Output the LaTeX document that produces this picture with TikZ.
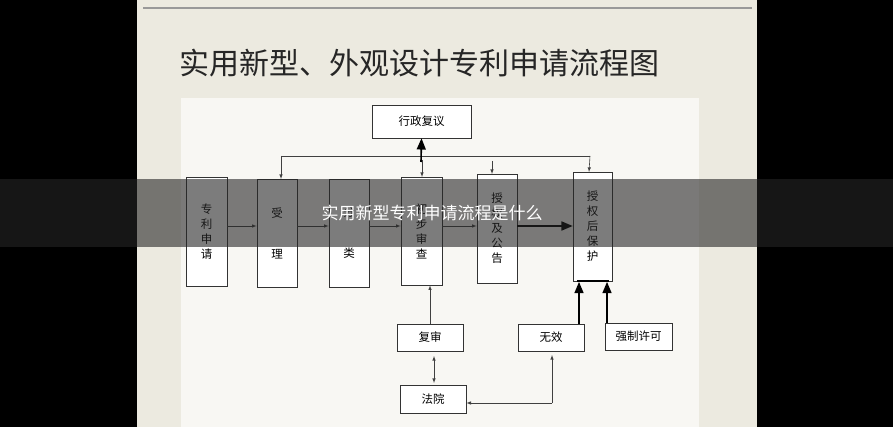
\documentclass[tikz,border=0pt]{standalone}
\usepackage{fontspec}
\setmainfont{Noto Sans CJK SC}
\usetikzlibrary{arrows}
\definecolor{slidebg}{HTML}{ECEAE0}
\definecolor{paper}{HTML}{F8F7F3}
\tikzset{
  box/.style={draw=black!80,line width=0.8pt,fill=white,font=\fontsize{11.5}{15}\selectfont,align=center,inner sep=0pt},
  link/.style={draw=black!75,line width=0.6pt,-latex},
  boldlink/.style={draw=black,line width=1.6pt,-triangle 45}
}
\begin{document}
\begin{tikzpicture}[x=1pt,y=-1pt]
\fill[black] (0,0) rectangle (893,427);
\useasboundingbox (0,0) rectangle (893,427);
% slide
\fill[slidebg] (137,0) rectangle (757,427);
\draw[black!40,line width=1.5pt] (143,8) -- (752,8);
\fill[paper] (181,98) rectangle (699,427);
\node[font=\fontsize{30}{30}\selectfont,anchor=west,text=black!85] (title) at (176,63) {实用新型、外观设计专利申请流程图};
% main row
\node[box,minimum width=41,minimum height=109] (apply) at (206.5,231.5) {专\\利\\申\\请};
\node[box,minimum width=40,minimum height=108] (accept) at (277,233) {受\\[26pt]理};
\node[box,minimum width=40,minimum height=108] (classify) at (349,233) {分\\[26pt]类};
\node[box,minimum width=41,minimum height=108] (exam) at (421.5,231) {初\\步\\审\\查};
\node[box,minimum width=40,minimum height=109] (grant) at (497,228.5) {授\\权\\及\\公\\告};
\node[box,minimum width=39,minimum height=109] (protect) at (592.5,226.5) {授\\权\\后\\保\\护};
\node[box,minimum width=99,minimum height=33] (review) at (421.5,121.5) {行政复议};
% lower row
\node[box,minimum width=66,minimum height=27] (reexam) at (430,337.5) {复审};
\node[box,minimum width=66,minimum height=27] (invalid) at (551,337.5) {无效};
\node[box,minimum width=67,minimum height=27] (license) at (638.5,336.5) {强制许可};
\node[box,minimum width=66,minimum height=28] (court) at (433,399) {法院};
% bus
\coordinate (busL) at (281,156);
\coordinate (busR) at (590,156);
\draw[black!75,line width=0.6pt] (busL) -- (busR);
\draw[link] (busL) -- (281,179);
\draw[link] (422,160) -- (422,177);
\draw[link] (492,161) -- (492,174);
\draw[link] (busR) -- (589,172);
\draw[boldlink] (421,162) -- (review.south);
% main flow
\draw[link] (apply.east |- 0,226) -- (accept.west |- 0,226);
\draw[link] (accept.east |- 0,226) -- (classify.west |- 0,226);
\draw[link] (classify.east |- 0,226) -- (exam.west |- 0,226);
\draw[link] (exam.east |- 0,226) -- (grant.west |- 0,226);
\draw[boldlink] (grant.east |- 0,226) -- (protect.west |- 0,226);
% lower links
\draw[link] (reexam.north) -- (reexam.north |- exam.south);
\draw[link,latex-latex] (434,356) -- (434,383);
\draw[link] (552,403) -- (court.east |- 0,403);
\draw[link] (552,403) -- (552,355);
\draw[boldlink] (579,324) -- (579,282);
\draw[boldlink] (607,323) -- (607,282);
\draw[black,line width=1.2pt] (577,281) -- (609,281);
% overlay band
\fill[black!85,opacity=0.6] (0,179) rectangle (893,247);
\node[text=white,font=\fontsize{17}{17}\selectfont] (caption) at (432,213) {实用新型专利申请流程是什么};
\end{tikzpicture}
\end{document}
